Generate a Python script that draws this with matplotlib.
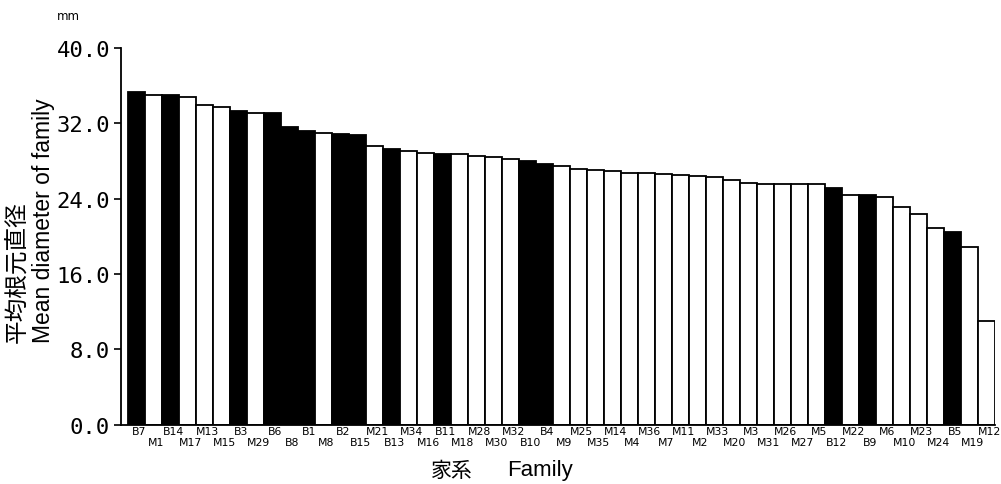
import numpy as np
import matplotlib
matplotlib.use("Agg")
import matplotlib.pyplot as plt
from matplotlib.transforms import blended_transform_factory

plt.rcParams['font.family'] = ['DejaVu Sans', 'Noto Sans CJK JP']

# families sorted by mean root-collar diameter (mm)
families = ['B7', 'M1', 'B14', 'M17', 'M13', 'M15', 'B3', 'M29', 'B6', 'B8',
            'B1', 'M8', 'B2', 'B15', 'M21', 'B13', 'M34', 'M16', 'B11', 'M18',
            'M28', 'M30', 'M32', 'B10', 'B4', 'M9', 'M25', 'M35', 'M14', 'M4',
            'M36', 'M7', 'M11', 'M2', 'M33', 'M20', 'M3', 'M31', 'M26', 'M27',
            'M5', 'B12', 'M22', 'B9', 'M6', 'M10', 'M23', 'M24', 'B5', 'M19',
            'M12']
diameter = [35.3, 35.0, 35.0, 34.8, 34.0, 33.7, 33.3, 33.1, 33.1, 31.6,
            31.2, 31.0, 30.9, 30.8, 29.6, 29.3, 29.1, 28.9, 28.8, 28.7,
            28.5, 28.4, 28.2, 28.0, 27.7, 27.5, 27.2, 27.1, 26.9, 26.7,
            26.7, 26.6, 26.55, 26.45, 26.3, 26.0, 25.7, 25.6, 25.6, 25.6,
            25.6, 25.1, 24.4, 24.4, 24.2, 23.1, 22.4, 20.9, 20.5, 18.9,
            11.0]
yticks = [0.0, 8.0, 16.0, 24.0, 32.0, 40.0]

fig = plt.figure(figsize=(10.01, 4.85), dpi=100)
ax = fig.add_axes([0.121, 0.122, 0.873, 0.777])

x = np.arange(len(families))
colors = ['black' if f.startswith('B') else 'white' for f in families]
ax.bar(x, diameter, width=1.0, color=colors, edgecolor='black', linewidth=1.3)

ax.set_xlim(-0.92, len(families) - 0.5)
ax.set_ylim(0, 40)
ax.set_yticks(yticks)
ax.set_yticklabels(['%.1f' % v for v in yticks], family='DejaVu Sans Mono', fontsize=16)
ax.tick_params(axis='y', direction='out', length=5, width=1.2, pad=3)

# family names on two staggered rows under the bars
ax.set_xticks([])
trans = blended_transform_factory(ax.transData, ax.transAxes)
for i, f in enumerate(families):
    yrow = -0.016 if i % 2 == 0 else -0.045
    ax.text(i + 0.15, yrow, f, transform=trans, ha='center', va='center', fontsize=7.8)

for s in ['top', 'right']:
    ax.spines[s].set_visible(False)
ax.spines['left'].set_linewidth(1.3)
ax.spines['bottom'].set_linewidth(1.3)

fig.text(0.017, 0.293, '平均根元直径', rotation=90, ha='center', va='bottom',
         fontsize=17, family=['Noto Sans CJK JP'])
fig.text(0.043, 0.293, 'Mean diameter of family', rotation=90, ha='center', va='bottom',
         fontsize=16.5, family=['Liberation Sans'])
fig.text(0.068, 0.965, 'mm', ha='center', va='center', fontsize=8.5)
fig.text(0.451, 0.029, '家系', ha='center', va='center', fontsize=15,
         family=['Noto Sans CJK JP'])
fig.text(0.539, 0.029, 'Family', ha='center', va='center', fontsize=16,
         family=['Liberation Sans'])

fig.savefig('out.png', dpi=100)
